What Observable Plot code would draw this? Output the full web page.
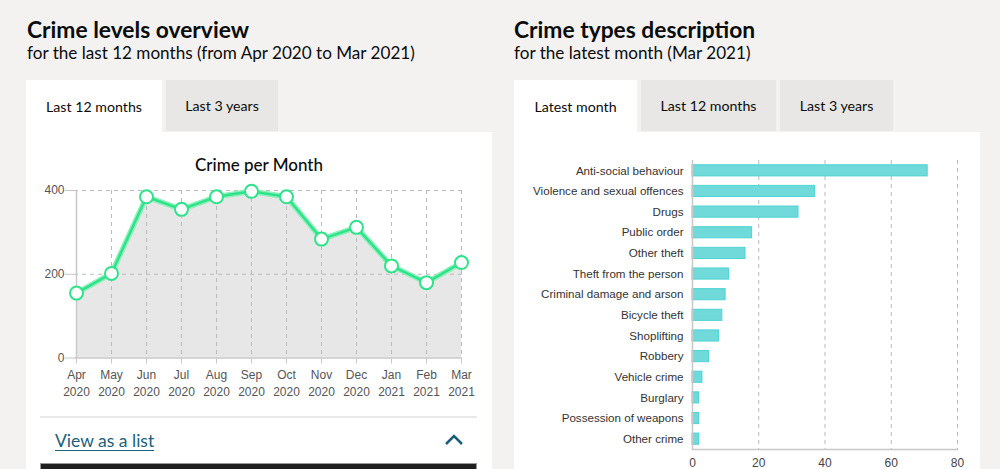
<!DOCTYPE html>
<html>
<head>
<meta charset="utf-8">
<script src="https://cdn.jsdelivr.net/npm/d3@7"></script>
<script src="https://cdn.jsdelivr.net/npm/@observablehq/plot@0.6"></script>
<style>
  html, body { margin: 0; padding: 0; }
  body { width: 1000px; height: 469px; overflow: hidden; background: #f3f2f1; position: relative; font-family: Lato, "Noto Sans", sans-serif; color: #0b0c0c; }
  .abs { position: absolute; }
  .h1 { font-size: 22.8px; font-weight: 700; white-space: nowrap; line-height: 1; }
  .h2 { font-size: 17.1px; font-weight: 400; white-space: nowrap; line-height: 1; }
  .tab { position: absolute; top: 80px; height: 51px; background: #e8e7e5; font-size: 14.2px; display: flex; align-items: center; justify-content: center; white-space: nowrap; }
  .tab.active { background: #fff; height: 52px; }
  .panel { position: absolute; top: 132px; background: #fff; height: 340px; }
  .link { font-size: 17.5px; color: #1a5f7a; text-decoration: underline; text-underline-offset: 3px; white-space: nowrap; line-height: 1; }
  svg text { font-family: "Liberation Sans", Arial, sans-serif; }
</style>
</head>
<body>
  <div class="abs h1" style="left:27px; top:18px;">Crime levels overview</div>
  <div class="abs h2" style="left:27px; top:44px;">for the last 12 months (from Apr 2020 to Mar 2021)</div>
  <div class="tab active" style="left:26px; width:136px;">Last 12 months</div>
  <div class="tab" style="left:166px; width:112px;">Last 3 years</div>
  <div class="panel" style="left:26px; width:466px;"></div>

  <div class="abs h1" style="left:514px; top:18px;">Crime types description</div>
  <div class="abs h2" style="left:514px; top:44px;">for the latest month (Mar 2021)</div>
  <div class="tab active" style="left:514px; width:123px;">Latest month</div>
  <div class="tab" style="left:641px; width:135px;">Last 12 months</div>
  <div class="tab" style="left:780px; width:113px;">Last 3 years</div>
  <div class="panel" style="left:514px; width:466px;"></div>

  <div class="abs" style="left:26px; top:156px; width:466px; text-align:center; font-size:17px; font-weight:500; line-height:1;">Crime per Month</div>
  <div id="line" class="abs" style="left:26px; top:132px;"></div>
  <div id="bars" class="abs" style="left:514px; top:132px;"></div>

  <div class="abs" style="left:40px; top:416px; width:437px; height:2px; background:#e9e9e9;"></div>
  <div class="abs link" style="left:55px; top:432px;">View as a list</div>
  <svg class="abs" style="left:443px; top:433px;" width="22" height="14"><polyline points="3,11 11,3 19,11" fill="none" stroke="#1a5f7a" stroke-width="2.5"/></svg>
  <div class="abs" style="left:40px; top:463px; width:435px; height:20px; background:#1f1f1f; border:1px solid #9a9a9a;"></div>

<script>
const months = ["Apr","May","Jun","Jul","Aug","Sep","Oct","Nov","Dec","Jan","Feb","Mar"];
const years = ["2020","2020","2020","2020","2020","2020","2020","2020","2020","2021","2021","2021"];
const crimeCounts = [155,202,385,355,385,398,385,284,312,220,180,228];
const yTicks = [0,200,400];

const crimeTypes = ["Anti-social behaviour","Violence and sexual offences","Drugs","Public order","Other theft","Theft from the person","Criminal damage and arson","Bicycle theft","Shoplifting","Robbery","Vehicle crime","Burglary","Possession of weapons","Other crime"];
const crimeTypeCounts = [71,37,32,18,16,11,10,9,8,5,3,2,2,2];
const xTicks = [0,20,40,60,80];

const lineData = months.map((m, i) => ({month: m, year: years[i], value: crimeCounts[i]}));
const barData = crimeTypes.map((t, i) => ({type: t, value: crimeTypeCounts[i]}));

const green = "#2fe38a";
const axisGrey = "#c8c8c8";

const linePlot = Plot.plot({
  width: 466, height: 280,
  marginLeft: 48, marginRight: 30, marginTop: 58, marginBottom: 54.5,
  style: {background: "transparent", fontSize: "12px", color: "#555"},
  x: {type: "point", domain: months, padding: 0},
  y: {domain: [0, 400], ticks: yTicks},
  marks: [
    Plot.areaY(lineData, {x: "month", y: "value", fill: "#e7e7e7"}),
    Plot.gridX(months, {x: d => d, stroke: "#bbb", strokeOpacity: 1, strokeDasharray: "4,4"}),
    Plot.gridY([200, 400], {stroke: "#bbb", strokeOpacity: 1, strokeDasharray: "4,4"}),
    Plot.ruleX([months[0]], {stroke: axisGrey, strokeWidth: 1.5}),
    Plot.ruleY([0], {stroke: axisGrey, strokeWidth: 1.5}),
    Plot.axisX({tickSize: 6, tickPadding: 3, stroke: axisGrey, fill: "#555", lineHeight: 1.4,
      tickFormat: (d) => `${d}\n${years[months.indexOf(d)]}`, label: null}),
    Plot.axisY({ticks: yTicks, tickSize: 9, tickPadding: 1, stroke: axisGrey, fill: "#555", label: null}),
    Plot.line(lineData, {x: "month", y: "value", stroke: "#8ef0bb", strokeWidth: 5.5}),
    Plot.line(lineData, {x: "month", y: "value", stroke: green, strokeWidth: 2.5}),
    Plot.dot(lineData, {x: "month", y: "value", r: 6.5, fill: "#fff", stroke: green, strokeWidth: 2})
  ]
});
document.getElementById("line").appendChild(linePlot);

const barPlot = Plot.plot({
  width: 466, height: 337,
  marginLeft: 178, marginRight: 23, marginTop: 28, marginBottom: 20,
  style: {background: "transparent", fontSize: "11.6px", color: "#333"},
  x: {domain: [0, 80], ticks: xTicks},
  y: {type: "band", domain: crimeTypes, paddingInner: 0.46, paddingOuter: 0.23, round: false},
  marks: [
    Plot.gridX(xTicks.slice(1), {stroke: "#bbb", strokeOpacity: 1, strokeDasharray: "4,4"}),
    Plot.barX(barData, {y: "type", x: "value", fill: "#70d9d9", stroke: "#4fd3d3", strokeWidth: 1}),
    Plot.ruleX([0], {stroke: axisGrey, strokeWidth: 1.5}),
    Plot.frame({anchor: "bottom", stroke: axisGrey, strokeWidth: 1.5}),
    Plot.axisX({ticks: xTicks, tickSize: 0, tickPadding: 9, fill: "#444", fontSize: 12, label: null}),
    Plot.axisY({tickSize: 0, tickPadding: 9, fill: "#333", label: null})
  ]
});
document.getElementById("bars").appendChild(barPlot);
</script>
</body>
</html>
